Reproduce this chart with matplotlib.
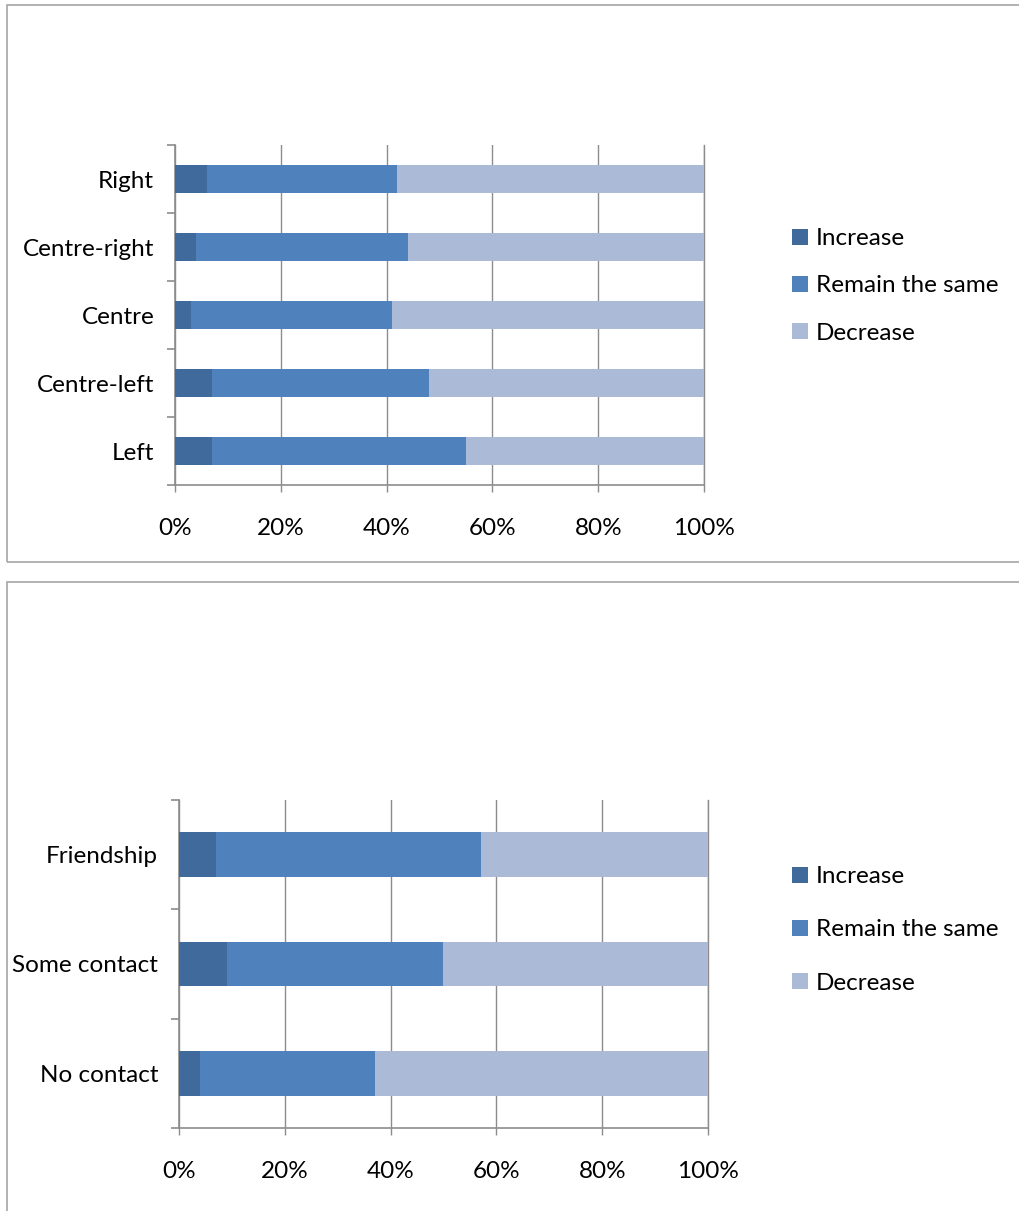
import matplotlib
matplotlib.use("Agg")
import matplotlib.pyplot as plt
from matplotlib.patches import Rectangle
from matplotlib.ticker import FixedLocator, PercentFormatter

plt.rcParams['font.family'] = ['Lato', 'DejaVu Sans']

# Political position panel
politics_categories = ["Left", "Centre-left", "Centre", "Centre-right", "Right"]
politics_increase = [7, 7, 3, 4, 6]
politics_same = [48, 41, 38, 40, 36]
politics_decrease = [45, 52, 59, 56, 58]

# Contact panel
contact_categories = ["No contact", "Some contact", "Friendship"]
contact_increase = [4, 9, 7]
contact_same = [33, 41, 50]
contact_decrease = [63, 50, 43]

series_labels = ["Increase", "Remain the same", "Decrease"]
series_colors = ["#406A9B", "#4F81BD", "#AABAD7"]
x_ticks = [0, 20, 40, 60, 80, 100]

W, H = 1020, 1211
fig = plt.figure(figsize=(W / 100, H / 100), dpi=100)
fig.patch.set_facecolor("white")

GRAY = "#8C8C8C"
FS = 17.5


def px_axes(left, top, right, bottom):
    return fig.add_axes([left / W, 1 - bottom / H, (right - left) / W, (bottom - top) / H])


def draw_panel(ax, cats, inc, same, dec, legend_y, label_spacing):
    n = len(cats)
    ypos = list(range(n))
    left_same = inc
    left_dec = [a + b for a, b in zip(inc, same)]
    h = 0.41
    ax.barh(ypos, inc, height=h, color=series_colors[0], label=series_labels[0], zorder=3)
    ax.barh(ypos, same, left=left_same, height=h, color=series_colors[1], label=series_labels[1], zorder=3)
    ax.barh(ypos, dec, left=left_dec, height=h, color=series_colors[2], label=series_labels[2], zorder=3)

    ax.set_xlim(0, 100)
    ax.set_ylim(-0.5, n - 0.5)
    ax.xaxis.set_major_locator(FixedLocator(x_ticks))
    ax.xaxis.set_major_formatter(PercentFormatter(decimals=0))
    ax.set_yticks(ypos)
    ax.set_yticklabels(cats)
    ax.yaxis.set_minor_locator(FixedLocator([i - 0.5 for i in range(n + 1)]))

    ax.grid(axis="x", color=GRAY, linewidth=1.0, zorder=0)
    ax.set_axisbelow(True)
    ax.spines["top"].set_visible(False)
    ax.spines["right"].set_color(GRAY)
    ax.spines["right"].set_linewidth(1.0)
    for s in ["left", "bottom"]:
        ax.spines[s].set_color(GRAY)
        ax.spines[s].set_linewidth(1.2)

    ax.tick_params(axis="y", which="major", length=0, pad=15, labelsize=FS, labelcolor="black")
    ax.tick_params(axis="y", which="minor", length=6, width=1.2, color=GRAY, direction="out")
    ax.tick_params(axis="x", which="major", length=5, width=1.0, color=GRAY, pad=19,
                   labelsize=FS, labelcolor="black")

    ax.legend(loc="center left", bbox_to_anchor=(792 / W, 1 - legend_y / H),
              bbox_transform=fig.transFigure, frameon=False, fontsize=FS,
              handlelength=0.66, handleheight=0.66, handletextpad=0.33,
              labelspacing=label_spacing, borderaxespad=0, borderpad=0)


ax_top = px_axes(175, 145, 704, 485)
draw_panel(ax_top, politics_categories, politics_increase, politics_same,
           politics_decrease, 286, 1.08)

ax_bot = px_axes(179, 800, 708, 1128)
draw_panel(ax_bot, contact_categories, contact_increase, contact_same,
           contact_decrease, 930, 1.32)

# Panel frames
for top, bottom in [(5, 562), (582, 1225)]:
    fig.add_artist(Rectangle((7 / W, 1 - bottom / H), (W + 20 - 7) / W, (bottom - top) / H,
                             transform=fig.transFigure, fill=False,
                             edgecolor="#A6A6A6", linewidth=1.2))

fig.savefig("out.png", dpi=100, facecolor="white")
